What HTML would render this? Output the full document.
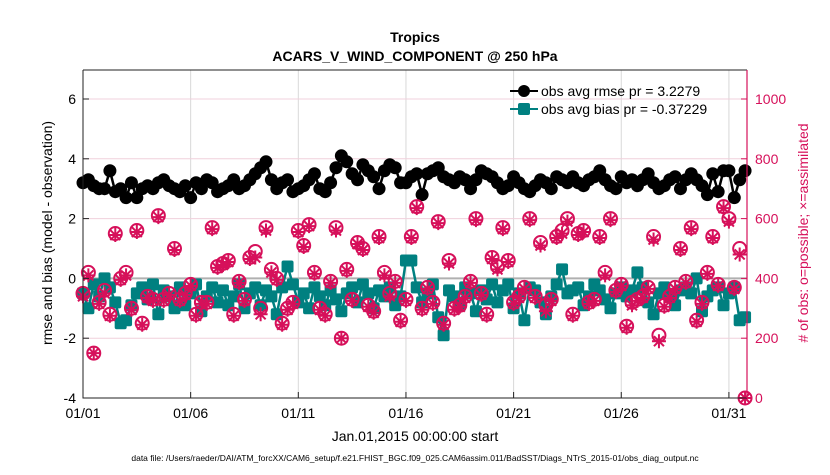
<!DOCTYPE html>
<html><head><meta charset="utf-8"><style>
body{margin:0;background:#fff;}
svg text{font-family:"Liberation Sans",sans-serif;}
</style></head><body>
<svg id="chart" width="830" height="470" xmlns="http://www.w3.org/2000/svg">
<text x="415" y="42" text-anchor="middle" font-size="14" font-weight="bold">Tropics</text>
<text x="415" y="61" text-anchor="middle" font-size="14" font-weight="bold">ACARS_V_WIND_COMPONENT @ 250 hPa</text>
<g id="grid"></g>
<g id="marks"></g>
<g id="axes"></g>
<text transform="translate(52,233) rotate(-90)" text-anchor="middle" font-size="14">rmse and bias (model - observation)</text>
<text transform="translate(808,233) rotate(-90)" text-anchor="middle" font-size="14" fill="#d6105a"> # of obs: o=possible; ×=assimilated</text>
<text x="415" y="441" text-anchor="middle" font-size="14">Jan.01,2015 00:00:00 start</text>
<text x="415" y="461" text-anchor="middle" font-size="8.5">data file: /Users/raeder/DAI/ATM_forcXX/CAM6_setup/f.e21.FHIST_BGC.f09_025.CAM6assim.011/BadSST/Diags_NTrS_2015-01/obs_diag_output.nc</text>
<g id="legend"></g>
</svg>
<script>
const xTickLabels=["01/01","01/06","01/11","01/16","01/21","01/26","01/31"];
const xTickDays=[0,5,10,15,20,25,30];
const yTicksLeft=[-4,-2,0,2,4,6];
const yTicksRight=[0,200,400,600,800,1000];
const rmse=[3.2,3.3,3.1,3.0,3.0,3.6,2.9,3.0,2.7,3.2,2.7,3.0,3.1,3.0,3.2,3.3,3.1,3.0,2.9,3.1,2.7,3.2,3.0,3.3,3.2,2.9,3.0,3.1,3.3,3.0,3.1,3.3,3.5,3.7,3.9,3.3,3.0,3.2,3.3,2.9,3.0,3.1,3.3,3.5,3.0,2.9,3.2,3.7,4.1,3.9,3.5,3.3,3.8,3.6,3.4,3.0,3.6,3.8,3.7,3.2,3.2,3.4,3.5,2.8,3.5,3.6,3.7,3.4,3.3,3.2,3.4,3.3,3.0,3.3,3.6,3.5,3.4,3.2,3.0,3.1,3.4,3.2,3.0,2.9,3.1,3.3,3.2,3.0,3.4,3.3,3.2,3.4,3.2,3.1,3.3,3.4,3.6,3.3,3.1,3.0,3.4,3.2,3.3,3.1,3.3,3.5,3.2,3.0,3.1,3.3,3.4,3.0,3.3,3.5,3.3,3.1,2.8,3.5,2.9,3.6,3.6,2.7,3.3,3.6];
const bias=[-0.5,-1.0,-0.2,-0.6,0.0,-0.3,-0.8,-1.5,-1.4,-0.9,-0.5,-0.3,-0.7,-0.2,-1.2,-0.4,-0.6,-1.0,-0.3,-0.9,-0.5,-0.2,-1.1,-0.6,-0.3,-0.8,-0.4,-0.9,-0.6,-0.2,-1.0,-0.5,-0.3,-0.9,-0.4,-0.6,-1.2,-0.3,0.4,-0.2,-0.8,-0.5,-1.0,-0.3,-0.6,-0.9,-0.4,-0.7,-1.1,-0.5,-0.3,-0.8,-0.2,-0.5,-1.0,-0.4,-0.6,-0.3,-0.9,-0.6,0.6,0.6,-0.3,-0.8,-0.5,-0.2,-1.3,-1.9,-0.4,-0.6,-0.9,-0.3,-0.5,-1.1,-0.4,-0.7,-0.2,-0.8,-0.4,-0.2,-1.0,-0.5,-1.4,-0.3,-0.4,-0.8,-1.2,-0.6,-0.2,0.3,-0.5,-0.4,-0.3,-0.9,-0.6,-0.2,-0.4,-0.7,-1.0,-0.5,-0.3,-0.6,-0.4,0.2,-0.3,-0.8,-1.2,-0.5,-0.3,-0.6,-0.9,-0.4,-0.3,-0.5,0.0,-1.1,-0.6,-0.4,-0.3,-0.9,-0.5,-0.3,-1.4,-1.3];
const obsPossible=[350,420,150,320,360,280,550,400,420,300,560,250,340,330,610,330,350,500,330,350,380,280,320,320,570,440,450,460,280,390,330,470,490,300,570,430,400,250,300,320,560,510,580,420,300,280,390,570,200,430,330,520,500,310,290,540,420,350,390,260,330,540,640,300,370,320,590,250,460,300,310,340,390,600,350,280,470,440,570,460,320,340,370,600,340,520,310,330,540,560,600,280,550,560,320,330,540,420,600,360,380,240,320,330,340,370,540,210,310,340,370,500,390,570,260,320,420,540,380,640,600,370,500,0];
const obsAssim=[340,410,150,315,350,275,545,395,410,295,555,245,335,325,605,325,345,495,325,345,375,275,315,315,565,435,445,455,275,385,325,465,470,280,560,420,395,245,295,315,555,505,575,415,295,275,385,560,200,425,325,515,495,305,285,535,410,340,385,255,325,535,635,295,365,315,585,245,450,295,305,335,385,595,345,275,465,430,565,455,315,335,365,595,335,510,290,325,535,550,590,275,545,555,315,325,535,410,595,355,375,235,310,325,335,365,530,190,305,335,365,495,385,565,255,315,415,535,375,635,590,365,480,0];
const L=83,R=747,T=70,B=398,XMAX=30.84;
const x=d=>L+(d/XMAX)*(R-L);
const yl=v=>B-(v+4)*(299/10);
const yr=v=>B-v*(299/1000);
const NS="http://www.w3.org/2000/svg";
function mk(tag,attrs,parent){const e=document.createElementNS(NS,tag);for(const k in attrs)e.setAttribute(k,attrs[k]);parent.appendChild(e);return e;}
const grid=document.getElementById('grid'),marks=document.getElementById('marks'),axes=document.getElementById('axes'),leg=document.getElementById('legend');
const PINK="#d6105a",TEAL="#008080";
xTickDays.forEach((d,i)=>{
 const g=mk('line',{x1:x(d),x2:x(d),y1:T,y2:B,stroke:'#d8d8d8','stroke-width':1},grid);
 
 const t=mk('line',{x1:x(d),x2:x(d),y1:B,y2:B-6,stroke:'#222'},axes);
 
 const l=mk('text',{x:x(d),y:B+20,'text-anchor':'middle','font-size':14},axes);l.textContent=xTickLabels[i];
 
});
yTicksRight.forEach(v=>{
 const g=mk('line',{x1:L,x2:R,y1:yr(v),y2:yr(v),stroke:'#f0d0dc','stroke-width':1},grid);
 
 const t=mk('line',{x1:R,x2:R-6,y1:yr(v),y2:yr(v),stroke:PINK},axes);
 
 const l=mk('text',{x:R+8,y:yr(v)+5,'font-size':14,fill:PINK},axes);l.textContent=v;
 
});
yTicksLeft.forEach(v=>{
 const t=mk('line',{x1:L,x2:L+6,y1:yl(v),y2:yl(v),stroke:'#222'},axes);
 
 const l=mk('text',{x:L-7,y:yl(v)+5,'text-anchor':'end','font-size':14},axes);l.textContent=v;
 
});
const zl=mk('line',{x1:L,x2:R,y1:yl(0),y2:yl(0),stroke:'#b0b0b0','stroke-width':2},grid);

const day=i=>i*0.25;
const bp=bias.map((v,i)=>x(day(i))+','+yl(v)).join(' ');
const bl=mk('polyline',{points:bp,fill:'none',stroke:TEAL,'stroke-width':2.5},marks);

bias.forEach((v,i)=>{const r=mk('rect',{x:x(day(i))-6,y:yl(v)-6,width:12,height:12,rx:2,fill:TEAL},marks);
 });
const rp=rmse.map((v,i)=>x(day(i))+','+yl(v)).join(' ');
const rl=mk('polyline',{points:rp,fill:'none',stroke:'#000','stroke-width':2.5},marks);

rmse.forEach((v,i)=>{const c=mk('circle',{cx:x(day(i)),cy:yl(v),r:6.5,fill:'#000'},marks);
 });
obsPossible.forEach((v,i)=>{const c=mk('circle',{cx:x(day(i)),cy:yr(v),r:6.5,fill:'none',stroke:PINK,'stroke-width':2},marks);
 });
obsAssim.forEach((v,i)=>{const cx=x(day(i)),cy=yr(v);
 const g=mk('path',{d:`M${cx-7},${cy}h14M${cx},${cy-7}v14M${cx-5},${cy-5}l10,10M${cx-5},${cy+5}l10,-10`,stroke:PINK,'stroke-width':2},marks);
 });
const bx=mk('path',{d:`M${L},${T}V${B}H${R}M${L},${T}H${R}`,fill:'none',stroke:'#222','stroke-width':1},axes);

const ra=mk('line',{x1:R,x2:R,y1:T,y2:B,stroke:PINK,'stroke-width':1.2},axes);

[["#000","obs avg rmse pr = 3.2279",91,'circle'],[TEAL,"obs avg bias pr = -0.37229",109,'rect']].forEach(([c,t,yy,s])=>{
 const ln=mk('line',{x1:510,x2:538,y1:yy,y2:yy,stroke:c,'stroke-width':2},leg);
 
 const m=s==='circle'?mk('circle',{cx:524,cy:yy,r:6,fill:c},leg):mk('rect',{x:518,y:yy-6,width:12,height:12,rx:2,fill:c},leg);
 
 const tx=mk('text',{x:541,y:yy+5,'font-size':14},leg);tx.textContent=t;
 
});
</script>
</body></html>
